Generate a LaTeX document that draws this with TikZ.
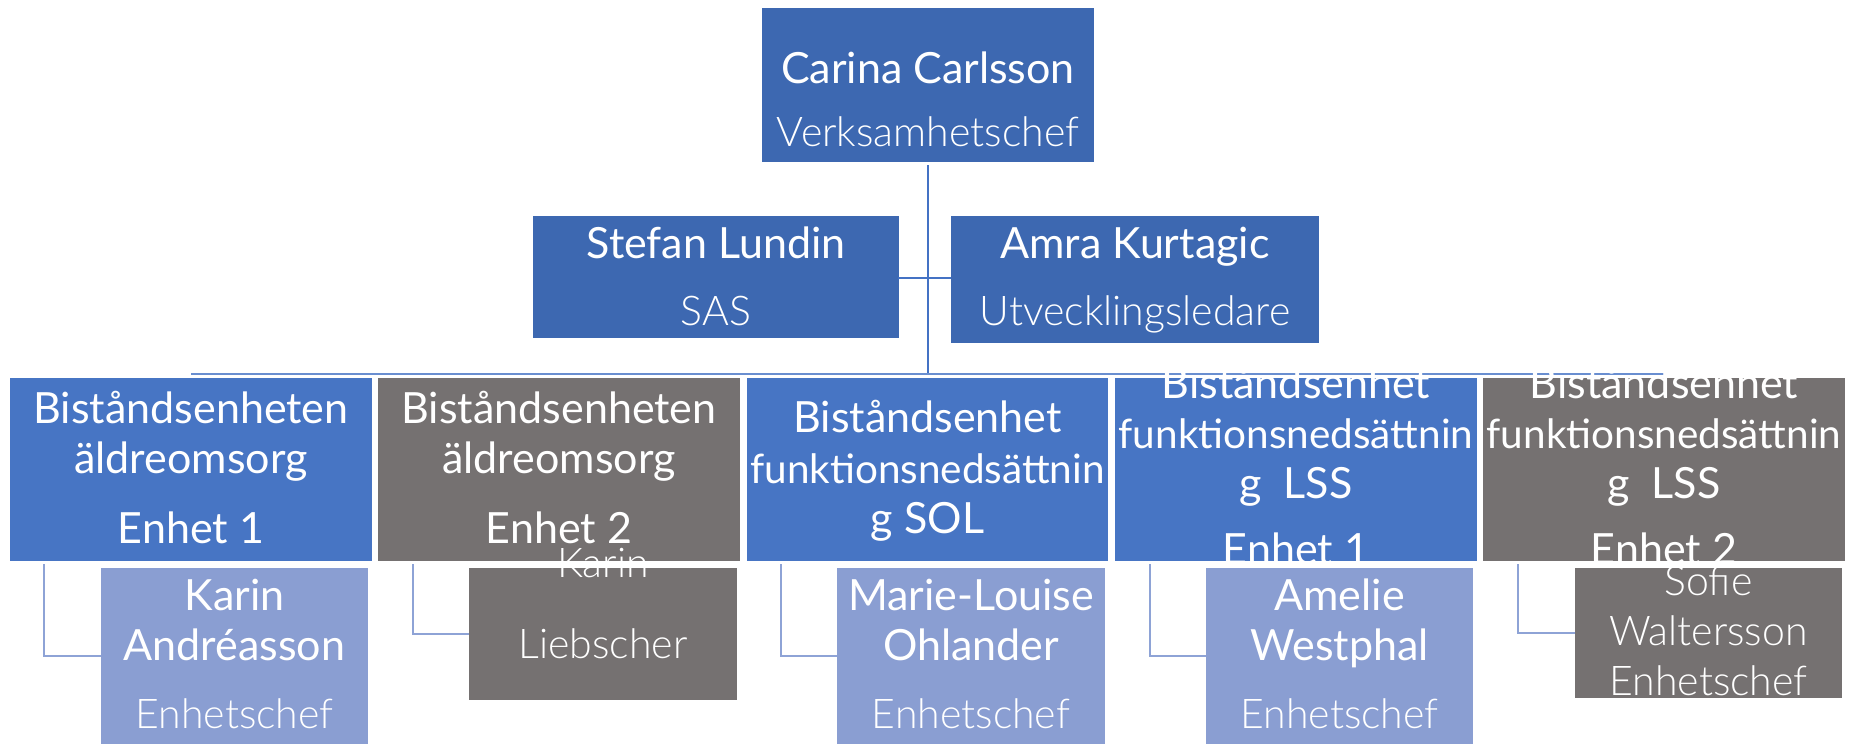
\documentclass[tikz,border=0pt]{standalone}
\usepackage{fontspec}
\setmainfont{Lato}
\newfontfamily\lightfont{Lato Light}
\definecolor{topblue}{HTML}{3D68B1}
\definecolor{midblue}{HTML}{4775C4}
\definecolor{greybox}{HTML}{757171}
\definecolor{lightbox}{HTML}{8A9ED2}
\definecolor{linecol}{HTML}{4472C4}
\definecolor{lightline}{HTML}{8EA3D6}
\begin{document}
\begin{tikzpicture}[x=1pt,y=-1pt,
  box/.style={draw=none,inner sep=0pt,outer sep=0pt},
  nm/.style={anchor=base,inner sep=0pt,text=white,font=\fontsize{43}{50}\selectfont},
  nmn/.style={anchor=base,inner sep=0pt,text=white,font=\fontsize{40.5}{50}\selectfont},
  rl/.style={anchor=base,inner sep=0pt,text=white,font=\lightfont\fontsize{41}{50}\selectfont},
  mainline/.style={draw=linecol,line width=2.5pt},
  busline/.style={draw=linecol!80,line width=2pt},
  subline/.style={draw=lightline,line width=2pt}]
\useasboundingbox[fill=white] (0,0) rectangle (1849,744);
% connectors
\coordinate (busL) at (191,374);
\coordinate (busR) at (1665,374);
\coordinate (busM) at (928,374);
\coordinate (sa) at (928,278);
% boxes
\node[box,fill=topblue,minimum width=332pt,minimum height=154pt] (top) at (928,85) {};
\node[box,fill=topblue,minimum width=366pt,minimum height=122pt] (stefan) at (716,277) {};
\node[box,fill=topblue,minimum width=368pt,minimum height=127pt] (amra) at (1135,279.5) {};
\node[box,fill=midblue,minimum width=362pt,minimum height=183pt] (b1) at (191,469.5) {};
\node[box,fill=greybox,minimum width=362pt,minimum height=183pt] (b2) at (559,469.5) {};
\node[box,fill=midblue,minimum width=361pt,minimum height=183pt] (b3) at (927.5,469.5) {};
\node[box,fill=midblue,minimum width=362pt,minimum height=183pt] (b4) at (1296,469.5) {};
\node[box,fill=greybox,minimum width=362pt,minimum height=183pt] (b5) at (1664,469.5) {};
\node[box,fill=lightbox,minimum width=267pt,minimum height=176pt] (c1) at (234.5,656) {};
\node[box,fill=greybox,minimum width=268pt,minimum height=132pt] (c2) at (603,634) {};
\node[box,fill=lightbox,minimum width=268pt,minimum height=176pt] (c3) at (971,656) {};
\node[box,fill=lightbox,minimum width=267pt,minimum height=176pt] (c4) at (1339.5,656) {};
\node[box,fill=greybox,minimum width=267pt,minimum height=130pt] (c5) at (1708.5,633) {};
% lines
\draw[mainline] (top.south) ++(0,3) -- (busM);
\draw[busline] (busL) -- (busR);
\draw[mainline,line width=2pt] (stefan.east) |- (sa) -- (amra.west |- sa);
\coordinate (k1) at (44,564); \coordinate (k2) at (413,564); \coordinate (k3) at (781,564);
\coordinate (k4) at (1150,564); \coordinate (k5) at (1518,564);
\draw[subline] (k1) |- (c1.west |- 0,656);
\draw[subline] (k2) |- (c2.west |- 0,634);
\draw[subline] (k3) |- (c3.west |- 0,656);
\draw[subline] (k4) |- (c4.west |- 0,656);
\draw[subline] (k5) |- (c5.west |- 0,633);
% texts
\node[nm] (t1) at (928,83) {Carina Carlsson};
\node[rl] (t2) at (928,146) {Verksamhetschef};
\node[nm] (t3) at (716,258) {Stefan Lundin};
\node[rl] (t4) at (716,325) {SAS};
\node[nm] (t5) at (1135,258) {Amra Kurtagic};
\node[rl] (t6) at (1135,325) {Utvecklingsledare};
\node[nm] (b1a) at (191,423) {Biståndsenheten};
\node[nm] (b1b) at (191,473) {äldreomsorg};
\node[nm] (b1c) at (191,543) {Enhet 1};
\node[nm] (b2a) at (559,423) {Biståndsenheten};
\node[nm] (b2b) at (559,473) {äldreomsorg};
\node[nm] (b2c) at (559,543) {Enhet 2};
\node[nm] (b3a) at (927.5,432) {Biståndsenhet};
\node[nmn] (b3b) at (927.5,483) {funktionsnedsättnin};
\node[nm] (b3c) at (927.5,533) {g SOL};
\node[nm] (b4a) at (1296,398) {Biståndsenhet};
\node[nmn] (b4b) at (1296,448) {funktionsnedsättnin};
\node[nm] (b4c) at (1296,498) {g\ \ LSS};
\node[nm] (b4d) at (1296,564) {Enhet 1};
\node[nm] (b5a) at (1664,398) {Biståndsenhet};
\node[nmn] (b5b) at (1664,448) {funktionsnedsättnin};
\node[nm] (b5c) at (1664,498) {g\ \ LSS};
\node[nm] (b5d) at (1664,564) {Enhet 2};
\node[nm] (c1a) at (234.5,610) {Karin};
\node[nm] (c1b) at (234.5,660) {Andréasson};
\node[rl] (c1c) at (234.5,728) {Enhetschef};
\node[rl] (c2a) at (603,577) {Karin};
\node[rl] (c2b) at (603,658) {Liebscher};
\node[nm] (c3a) at (971,610) {Marie-Louise};
\node[nm] (c3b) at (971,660) {Ohlander};
\node[rl] (c3c) at (971,728) {Enhetschef};
\node[nm] (c4a) at (1339.5,610) {Amelie};
\node[nm] (c4b) at (1339.5,660) {Westphal};
\node[rl] (c4c) at (1339.5,728) {Enhetschef};
\node[rl] (c5a) at (1708.5,595) {Sofie};
\node[rl] (c5b) at (1708.5,645) {Waltersson};
\node[rl] (c5c) at (1708.5,695) {Enhetschef};
\end{tikzpicture}
\end{document}
